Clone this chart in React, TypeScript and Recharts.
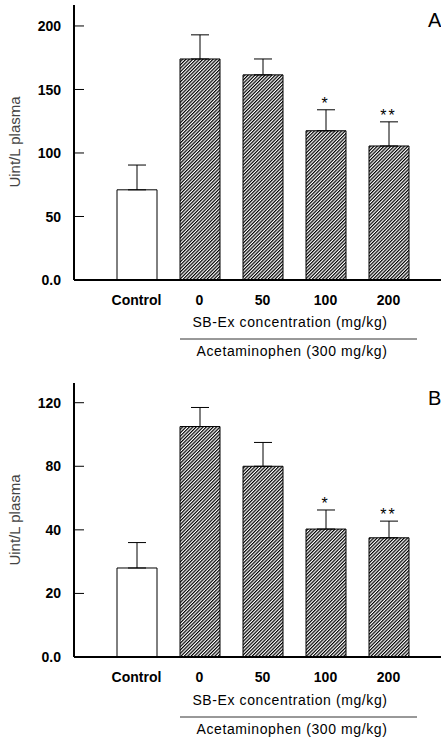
import React from 'react';
import { ComposedChart, Bar, Cell, ErrorBar, Line, LabelList, XAxis, YAxis } from 'recharts';

const groups = ['Control', '0', '50', '100', '200'];
const significance = ['', '', '', '*', '**'];

// panel A
const aMeans = [71, 174, 161.5, 117.5, 105.5];
const aErrors = [19.5, 19, 12.5, 16.5, 19];
const aTicks = [0, 50, 100, 150, 200];
const aTickLabels = ['0.0', '50', '100', '150', '200'];

// panel B (ticks are evenly spaced but labelled 0, 20, 40, 80, 120)
const bMeans = [28, 105, 80, 40.5, 37.5];
const bErrors = [8, 12, 15, 12, 8];
const bTickValues = [0, 20, 40, 80, 120];
const bTickLabels = ['0.0', '20', '40', '80', '120'];

const FONT = 'Arial, "Liberation Sans", sans-serif';
const AXIS_X = 74;

// piecewise position of a value on the B axis (one slot per tick)
function toSlot(v: number) {
  for (let i = 0; i < bTickValues.length - 1; i++) {
    const lo = bTickValues[i];
    const hi = bTickValues[i + 1];
    if (v <= hi || i === bTickValues.length - 2) return i + (v - lo) / (hi - lo);
  }
  return 0;
}

const rowsA = groups.map((name, i) => ({
  name,
  value: aMeans[i],
  err: [0, aErrors[i]],
  top: aMeans[i] + aErrors[i],
  sig: significance[i],
}));

const rowsB = groups.map((name, i) => {
  const v = toSlot(bMeans[i]);
  const t = toSlot(bMeans[i] + bErrors[i]);
  return { name, value: v, err: [0, t - v], top: t, sig: significance[i] };
});

function YTick(props: any) {
  const { y, payload, fmt } = props;
  return (
    <g>
      <line x1={AXIS_X} x2={AXIS_X + 10} y1={y} y2={y} stroke="#000" strokeWidth={1} />
      <text x={61} y={y} dy="0.36em" textAnchor="end" fontSize={14} fontWeight="bold" fill="#000">
        {fmt(payload.value)}
      </text>
    </g>
  );
}

function Panel({ id, rows, domain, ticks, fmt, letter, height, bottom }: any) {
  return (
    <div style={{ position: 'relative', width: 441, height }}>
      <ComposedChart width={441} height={height} data={rows} margin={{ top: 5, right: 0, bottom, left: 0 }}>
        <defs>
          <pattern id={id} width={2.4} height={2.4} patternUnits="userSpaceOnUse" patternTransform="rotate(45)">
            <rect width={2.4} height={2.4} fill="#fff" />
            <line x1={0.6} y1={0} x2={0.6} y2={2.4} stroke="#000" strokeWidth={1.2} />
          </pattern>
        </defs>
        <XAxis
          dataKey="name"
          height={30}
          interval={0}
          tickLine={false}
          tickSize={0}
          tickMargin={15}
          padding={{ left: 31, right: 21 }}
          axisLine={{ stroke: '#000', strokeWidth: 2 }}
          tick={{ fontSize: 14, fontWeight: 'bold', fill: '#000' }}
        />
        <YAxis
          type="number"
          width={74}
          domain={domain}
          ticks={ticks}
          allowDataOverflow
          tickLine={false}
          axisLine={{ stroke: '#000', strokeWidth: 2 }}
          tick={(p: any) => <YTick {...p} fmt={fmt} />}
        />
        <Bar dataKey="value" barSize={40} stroke="#000" strokeWidth={1} isAnimationActive={false}>
          {rows.map((r: any, i: number) => (
            <Cell key={r.name} fill={i === 0 ? '#fff' : `url(#${id})`} />
          ))}
          <ErrorBar dataKey="err" direction="y" width={9} stroke="#000" strokeWidth={1} />
        </Bar>
        <Line dataKey="top" stroke="none" dot={false} activeDot={false} legendType="none" isAnimationActive={false}>
          <LabelList dataKey="sig" position="top" offset={1} fontSize={16} fill="#000" letterSpacing={2} />
        </Line>
      </ComposedChart>
      <svg width={441} height={height} style={{ position: 'absolute', left: 0, top: 0, pointerEvents: 'none' }}>
        <text x={428} y={27} fontSize={20} fill="#000">{letter}</text>
        <text x={20} y={142} fontSize={15} fill="#444" textAnchor="middle" transform="rotate(-90 20 142)">
          Uint/L plasma
        </text>
        <text x={290} y={327} fontSize={14} fill="#000" textAnchor="middle" letterSpacing={0.6}>
          SB-Ex concentration (mg/kg)
        </text>
        <line x1={180} x2={417} y1={339} y2={339} stroke="#333" strokeWidth={1} />
        <text x={292} y={356} fontSize={14} fill="#000" textAnchor="middle" letterSpacing={0.6}>
          Acetaminophen (300 mg/kg)
        </text>
      </svg>
    </div>
  );
}

export default function App() {
  return (
    <div style={{ width: 441, height: 737, fontFamily: FONT, background: '#fff' }}>
      <style>{'body{margin:0}'}</style>
      <Panel
        id="hatchA"
        rows={rowsA}
        domain={[0, 216.5]}
        ticks={aTicks}
        fmt={(v: number) => aTickLabels[aTicks.indexOf(v)]}
        letter="A"
        height={378}
        bottom={68}
      />
      <Panel
        id="hatchB"
        rows={rowsB}
        domain={[0, 4.31]}
        ticks={[0, 1, 2, 3, 4]}
        fmt={(v: number) => bTickLabels[v]}
        letter="B"
        height={359}
        bottom={50}
      />
    </div>
  );
}
